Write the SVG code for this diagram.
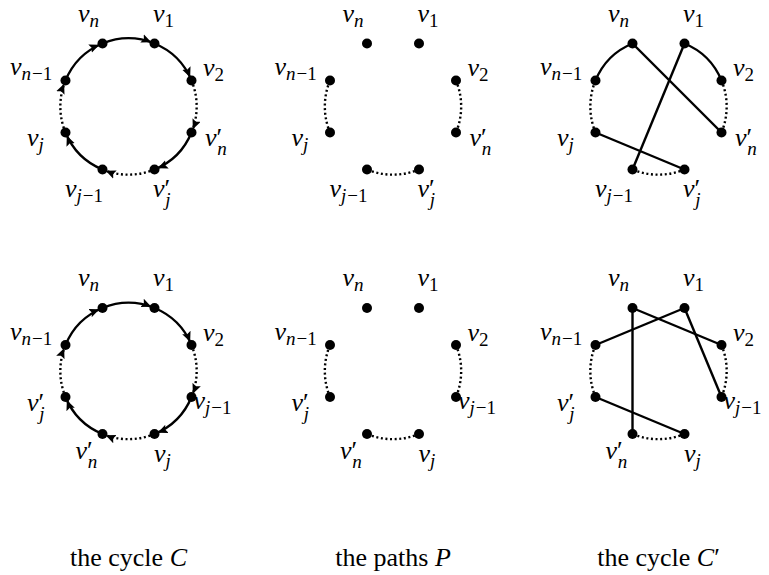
<svg xmlns="http://www.w3.org/2000/svg" width="769" height="575" viewBox="0 0 769 575">
<defs>
<marker id="ah" markerWidth="12" markerHeight="10" refX="13.5" refY="4.5" orient="auto" markerUnits="userSpaceOnUse">
<path d="M0,0 L10,4.5 L0,9 L2,4.5 z" fill="#000"/>
</marker>
</defs>

<!-- Graph 1: the cycle C (top) -->
<g id="g1" transform="translate(128.5,106.5)" font-family="Liberation Serif" font-size="26" font-style="italic">
<g id="g1-edges" fill="none" stroke="#000" stroke-width="2.4" marker-end="url(#ah)">
<path d="M-26,-63 A68,68 0 0 1 26,-63"/>
<path d="M26,-63 A68,68 0 0 1 63,-26"/>
<path stroke-dasharray="2 2.6" d="M63,-26 A68,68 0 0 1 63,26"/>
<path d="M63,26 A68,68 0 0 1 26,63"/>
<path stroke-dasharray="2 2.6" d="M26,63 A68,68 0 0 1 -26,63"/>
<path d="M-26,63 A68,68 0 0 1 -63,26"/>
<path stroke-dasharray="2 2.6" d="M-63,26 A68,68 0 0 1 -63,-26"/>
<path d="M-63,-26 A68,68 0 0 1 -26,-63"/>
</g>
<g id="g1-vn"><circle cx="-26" cy="-63" r="5"/><text x="-50.5" y="-85">v<tspan font-size="19" dy="5">n</tspan></text></g>
<g id="g1-v1"><circle cx="26" cy="-63" r="5"/><text x="24.5" y="-85">v<tspan font-size="19" font-style="normal" dy="5">1</tspan></text></g>
<g id="g1-v2"><circle cx="63" cy="-26" r="5"/><text x="74.5" y="-30.5">v<tspan font-size="19" font-style="normal" dy="5">2</tspan></text></g>
<g id="g1-vpn"><circle cx="63" cy="26" r="5"/><text x="76.5" y="39.5">v<tspan font-style="normal">&#x2032;</tspan><tspan font-size="19" dx="-5" dy="9">n</tspan></text></g>
<g id="g1-vpj"><circle cx="26" cy="63" r="5"/><text x="24.5" y="90.5">v<tspan font-style="normal">&#x2032;</tspan><tspan font-size="19" dx="-5" dy="9">j</tspan></text></g>
<g id="g1-vj1"><circle cx="-26" cy="63" r="5"/><text x="-63.5" y="90.5">v<tspan font-size="19" dy="5">j</tspan><tspan font-size="19" font-style="normal" dx="1">&#x2212;1</tspan></text></g>
<g id="g1-vj"><circle cx="-63" cy="26" r="5"/><text x="-101.5" y="39.5">v<tspan font-size="19" dy="5">j</tspan></text></g>
<g id="g1-vn1"><circle cx="-63" cy="-26" r="5"/><text x="-118.5" y="-31.5">v<tspan font-size="19" dy="5">n</tspan><tspan font-size="19" font-style="normal" dx="1">&#x2212;1</tspan></text></g>
</g>

<!-- Graph 2: the paths P (top) -->
<g id="g2" transform="translate(393,106.5)" font-family="Liberation Serif" font-size="26" font-style="italic">
<g id="g2-edges" fill="none" stroke="#000" stroke-width="2.4" stroke-dasharray="2 2.6">
<path d="M63,-26 A68,68 0 0 1 63,26"/>
<path d="M26,63 A68,68 0 0 1 -26,63"/>
<path d="M-63,26 A68,68 0 0 1 -63,-26"/>
</g>
<g id="g2-vn"><circle cx="-26" cy="-63" r="5"/><text x="-50.5" y="-85">v<tspan font-size="19" dy="5">n</tspan></text></g>
<g id="g2-v1"><circle cx="26" cy="-63" r="5"/><text x="24.5" y="-85">v<tspan font-size="19" font-style="normal" dy="5">1</tspan></text></g>
<g id="g2-v2"><circle cx="63" cy="-26" r="5"/><text x="74.5" y="-30.5">v<tspan font-size="19" font-style="normal" dy="5">2</tspan></text></g>
<g id="g2-vpn"><circle cx="63" cy="26" r="5"/><text x="76.5" y="39.5">v<tspan font-style="normal">&#x2032;</tspan><tspan font-size="19" dx="-5" dy="9">n</tspan></text></g>
<g id="g2-vpj"><circle cx="26" cy="63" r="5"/><text x="24.5" y="90.5">v<tspan font-style="normal">&#x2032;</tspan><tspan font-size="19" dx="-5" dy="9">j</tspan></text></g>
<g id="g2-vj1"><circle cx="-26" cy="63" r="5"/><text x="-63.5" y="90.5">v<tspan font-size="19" dy="5">j</tspan><tspan font-size="19" font-style="normal" dx="1">&#x2212;1</tspan></text></g>
<g id="g2-vj"><circle cx="-63" cy="26" r="5"/><text x="-101.5" y="39.5">v<tspan font-size="19" dy="5">j</tspan></text></g>
<g id="g2-vn1"><circle cx="-63" cy="-26" r="5"/><text x="-118.5" y="-31.5">v<tspan font-size="19" dy="5">n</tspan><tspan font-size="19" font-style="normal" dx="1">&#x2212;1</tspan></text></g>
</g>

<!-- Graph 3: the cycle C' (top) -->
<g id="g3" transform="translate(658.5,106.5)" font-family="Liberation Serif" font-size="26" font-style="italic">
<g id="g3-edges" fill="none" stroke="#000" stroke-width="2.4">
<path d="M-63,-26 A68,68 0 0 1 -26,-63"/>
<path d="M26,-63 A68,68 0 0 1 63,-26"/>
<path stroke-dasharray="2 2.6" d="M63,-26 A68,68 0 0 1 63,26"/>
<path stroke-dasharray="2 2.6" d="M26,63 A68,68 0 0 1 -26,63"/>
<path stroke-dasharray="2 2.6" d="M-63,26 A68,68 0 0 1 -63,-26"/>
<path d="M-26,-63 L63,26"/>
<path d="M26,-63 L-26,63"/>
<path d="M-63,26 L26,63"/>
</g>
<g id="g3-vn"><circle cx="-26" cy="-63" r="5"/><text x="-50.5" y="-85">v<tspan font-size="19" dy="5">n</tspan></text></g>
<g id="g3-v1"><circle cx="26" cy="-63" r="5"/><text x="24.5" y="-85">v<tspan font-size="19" font-style="normal" dy="5">1</tspan></text></g>
<g id="g3-v2"><circle cx="63" cy="-26" r="5"/><text x="74.5" y="-30.5">v<tspan font-size="19" font-style="normal" dy="5">2</tspan></text></g>
<g id="g3-vpn"><circle cx="63" cy="26" r="5"/><text x="76.5" y="39.5">v<tspan font-style="normal">&#x2032;</tspan><tspan font-size="19" dx="-5" dy="9">n</tspan></text></g>
<g id="g3-vpj"><circle cx="26" cy="63" r="5"/><text x="24.5" y="90.5">v<tspan font-style="normal">&#x2032;</tspan><tspan font-size="19" dx="-5" dy="9">j</tspan></text></g>
<g id="g3-vj1"><circle cx="-26" cy="63" r="5"/><text x="-63.5" y="90.5">v<tspan font-size="19" dy="5">j</tspan><tspan font-size="19" font-style="normal" dx="1">&#x2212;1</tspan></text></g>
<g id="g3-vj"><circle cx="-63" cy="26" r="5"/><text x="-101.5" y="39.5">v<tspan font-size="19" dy="5">j</tspan></text></g>
<g id="g3-vn1"><circle cx="-63" cy="-26" r="5"/><text x="-118.5" y="-31.5">v<tspan font-size="19" dy="5">n</tspan><tspan font-size="19" font-style="normal" dx="1">&#x2212;1</tspan></text></g>
</g>

<!-- Graph 4: the cycle C (bottom) -->
<g id="g4" transform="translate(128.5,371)" font-family="Liberation Serif" font-size="26" font-style="italic">
<g id="g4-edges" fill="none" stroke="#000" stroke-width="2.4" marker-end="url(#ah)">
<path d="M-26,-63 A68,68 0 0 1 26,-63"/>
<path d="M26,-63 A68,68 0 0 1 63,-26"/>
<path stroke-dasharray="2 2.6" d="M63,-26 A68,68 0 0 1 63,26"/>
<path d="M63,26 A68,68 0 0 1 26,63"/>
<path stroke-dasharray="2 2.6" d="M26,63 A68,68 0 0 1 -26,63"/>
<path d="M-26,63 A68,68 0 0 1 -63,26"/>
<path stroke-dasharray="2 2.6" d="M-63,26 A68,68 0 0 1 -63,-26"/>
<path d="M-63,-26 A68,68 0 0 1 -26,-63"/>
</g>
<g id="g4-vn"><circle cx="-26" cy="-63" r="5"/><text x="-50.5" y="-85">v<tspan font-size="19" dy="5">n</tspan></text></g>
<g id="g4-v1"><circle cx="26" cy="-63" r="5"/><text x="24.5" y="-85">v<tspan font-size="19" font-style="normal" dy="5">1</tspan></text></g>
<g id="g4-v2"><circle cx="63" cy="-26" r="5"/><text x="74.5" y="-30.5">v<tspan font-size="19" font-style="normal" dy="5">2</tspan></text></g>
<g id="g4-vj1"><circle cx="63" cy="26" r="5"/><text x="65" y="38">v<tspan font-size="19" dy="5">j</tspan><tspan font-size="19" font-style="normal" dx="1">&#x2212;1</tspan></text></g>
<g id="g4-vj"><circle cx="26" cy="63" r="5"/><text x="25.5" y="90.5">v<tspan font-size="19" dy="5">j</tspan></text></g>
<g id="g4-vpn"><circle cx="-26" cy="63" r="5"/><text x="-53" y="88">v<tspan font-style="normal">&#x2032;</tspan><tspan font-size="19" dx="-5" dy="9">n</tspan></text></g>
<g id="g4-vpj"><circle cx="-63" cy="26" r="5"/><text x="-101.5" y="39.5">v<tspan font-style="normal">&#x2032;</tspan><tspan font-size="19" dx="-5" dy="9">j</tspan></text></g>
<g id="g4-vn1"><circle cx="-63" cy="-26" r="5"/><text x="-118.5" y="-31.5">v<tspan font-size="19" dy="5">n</tspan><tspan font-size="19" font-style="normal" dx="1">&#x2212;1</tspan></text></g>
</g>

<!-- Graph 5: the paths P (bottom) -->
<g id="g5" transform="translate(393,371)" font-family="Liberation Serif" font-size="26" font-style="italic">
<g id="g5-edges" fill="none" stroke="#000" stroke-width="2.4" stroke-dasharray="2 2.6">
<path d="M63,-26 A68,68 0 0 1 63,26"/>
<path d="M26,63 A68,68 0 0 1 -26,63"/>
<path d="M-63,26 A68,68 0 0 1 -63,-26"/>
</g>
<g id="g5-vn"><circle cx="-26" cy="-63" r="5"/><text x="-50.5" y="-85">v<tspan font-size="19" dy="5">n</tspan></text></g>
<g id="g5-v1"><circle cx="26" cy="-63" r="5"/><text x="24.5" y="-85">v<tspan font-size="19" font-style="normal" dy="5">1</tspan></text></g>
<g id="g5-v2"><circle cx="63" cy="-26" r="5"/><text x="74.5" y="-30.5">v<tspan font-size="19" font-style="normal" dy="5">2</tspan></text></g>
<g id="g5-vj1"><circle cx="63" cy="26" r="5"/><text x="65" y="38">v<tspan font-size="19" dy="5">j</tspan><tspan font-size="19" font-style="normal" dx="1">&#x2212;1</tspan></text></g>
<g id="g5-vj"><circle cx="26" cy="63" r="5"/><text x="25.5" y="90.5">v<tspan font-size="19" dy="5">j</tspan></text></g>
<g id="g5-vpn"><circle cx="-26" cy="63" r="5"/><text x="-53" y="88">v<tspan font-style="normal">&#x2032;</tspan><tspan font-size="19" dx="-5" dy="9">n</tspan></text></g>
<g id="g5-vpj"><circle cx="-63" cy="26" r="5"/><text x="-101.5" y="39.5">v<tspan font-style="normal">&#x2032;</tspan><tspan font-size="19" dx="-5" dy="9">j</tspan></text></g>
<g id="g5-vn1"><circle cx="-63" cy="-26" r="5"/><text x="-118.5" y="-31.5">v<tspan font-size="19" dy="5">n</tspan><tspan font-size="19" font-style="normal" dx="1">&#x2212;1</tspan></text></g>
</g>

<!-- Graph 6: the cycle C' (bottom) -->
<g id="g6" transform="translate(658.5,371)" font-family="Liberation Serif" font-size="26" font-style="italic">
<g id="g6-edges" fill="none" stroke="#000" stroke-width="2.4">
<path stroke-dasharray="2 2.6" d="M63,-26 A68,68 0 0 1 63,26"/>
<path stroke-dasharray="2 2.6" d="M26,63 A68,68 0 0 1 -26,63"/>
<path stroke-dasharray="2 2.6" d="M-63,26 A68,68 0 0 1 -63,-26"/>
<path d="M-26,-63 L63,-26"/>
<path d="M-26,-63 L-26,63"/>
<path d="M26,-63 L-63,-26"/>
<path d="M26,-63 L63,26"/>
<path d="M-63,26 L26,63"/>
</g>
<g id="g6-vn"><circle cx="-26" cy="-63" r="5"/><text x="-50.5" y="-85">v<tspan font-size="19" dy="5">n</tspan></text></g>
<g id="g6-v1"><circle cx="26" cy="-63" r="5"/><text x="24.5" y="-85">v<tspan font-size="19" font-style="normal" dy="5">1</tspan></text></g>
<g id="g6-v2"><circle cx="63" cy="-26" r="5"/><text x="74.5" y="-30.5">v<tspan font-size="19" font-style="normal" dy="5">2</tspan></text></g>
<g id="g6-vj1"><circle cx="63" cy="26" r="5"/><text x="65" y="38">v<tspan font-size="19" dy="5">j</tspan><tspan font-size="19" font-style="normal" dx="1">&#x2212;1</tspan></text></g>
<g id="g6-vj"><circle cx="26" cy="63" r="5"/><text x="25.5" y="90.5">v<tspan font-size="19" dy="5">j</tspan></text></g>
<g id="g6-vpn"><circle cx="-26" cy="63" r="5"/><text x="-53" y="88">v<tspan font-style="normal">&#x2032;</tspan><tspan font-size="19" dx="-5" dy="9">n</tspan></text></g>
<g id="g6-vpj"><circle cx="-63" cy="26" r="5"/><text x="-101.5" y="39.5">v<tspan font-style="normal">&#x2032;</tspan><tspan font-size="19" dx="-5" dy="9">j</tspan></text></g>
<g id="g6-vn1"><circle cx="-63" cy="-26" r="5"/><text x="-118.5" y="-31.5">v<tspan font-size="19" dy="5">n</tspan><tspan font-size="19" font-style="normal" dx="1">&#x2212;1</tspan></text></g>
</g>

<g id="captions" font-family="Liberation Serif" font-size="26" text-anchor="middle">
<text x="128.5" y="566">the cycle <tspan font-style="italic">C</tspan></text>
<text x="393" y="566">the paths <tspan font-style="italic">P</tspan></text>
<text x="658.5" y="566">the cycle <tspan font-style="italic">C</tspan>&#x2032;</text>
</g>
</svg>
